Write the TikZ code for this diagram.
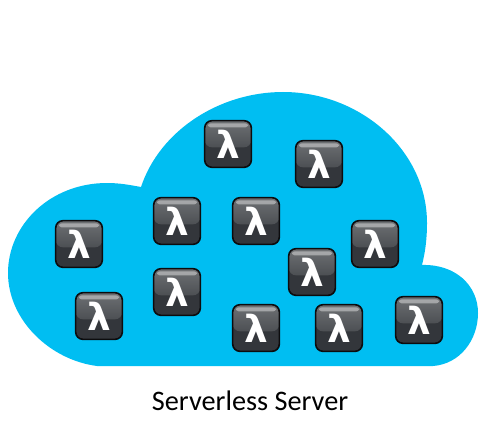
\documentclass[tikz,border=0pt]{standalone}
\usepackage{fontspec}
\setmainfont{Carlito}
\newfontfamily\lambdafont{DejaVu Sans}
\definecolor{cloudblue}{HTML}{00BEF2}
\definecolor{boxtop}{HTML}{6E7174}
\definecolor{boxdark}{HTML}{33363B}
\definecolor{boxline}{HTML}{0C0C0E}
\tikzset{
    lambdabox/.style={draw=boxline, line width=1.2pt, rounded corners=5.5pt, minimum size=35pt, inner sep=0pt,
        fill=boxdark, text=white, font=\lambdafont\bfseries\fontsize{28}{28}\selectfont,
        path picture={
            \shade[top color=boxtop, bottom color=boxdark] (path picture bounding box.north west)
                rectangle ([yshift=-20pt]path picture bounding box.north east);
            \fill[white, opacity=0.4, rounded corners=2pt] ([xshift=2.5pt,yshift=-2pt]path picture bounding box.north west)
                rectangle ([xshift=-2.5pt,yshift=-5pt]path picture bounding box.north east);
        }},
}
\begin{document}
\begin{tikzpicture}[x=0.75pt, y=-0.75pt]
\useasboundingbox (0,0) rectangle (484,442);

% cloud
\fill[cloudblue] (97,366) .. controls (50,360) and (8,320) .. (8,273)
    .. controls (8,225) and (50,183) .. (107,183)
    .. controls (120,183) and (130,185) .. (141,187)
    .. controls (160,130) and (220,92) .. (283,92)
    .. controls (360,92) and (427,150) .. (427,223)
    .. controls (427,240) and (425,253) .. (422,265)
    .. controls (455,264) and (478,285) .. (478,313)
    .. controls (478,340) and (460,364) .. (433,366) -- cycle;

% functions
\foreach \name/\x/\y in {a/228/144, b/319/164, c/177/221, d/256/221, e/79/244, f/375/244,
    g/312/272, h/177/292, i/99/316, j/256/328, k/339/328, l/419/320}
    \node[lambdabox] (fn\name) at (\x,\y) {λ};

\node[font=\fontsize{21.2}{22}\selectfont] (title) at (250,401) {Serverless Server};
\end{tikzpicture}
\end{document}
